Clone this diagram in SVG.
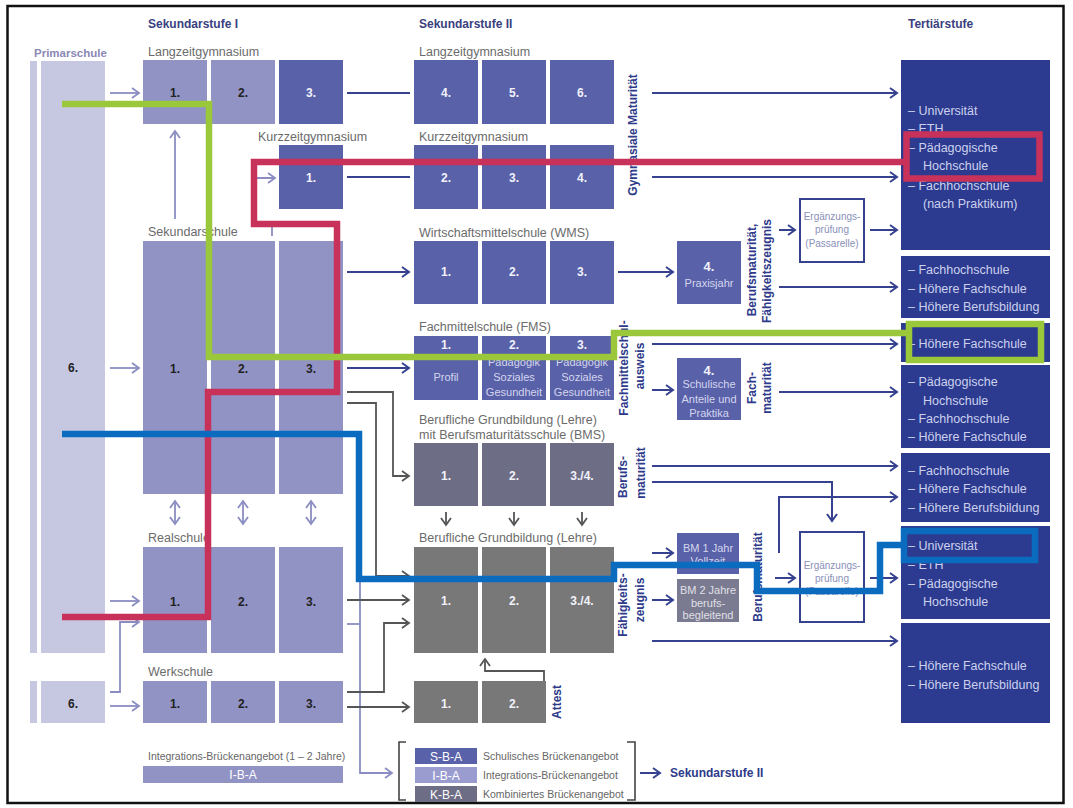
<svg xmlns="http://www.w3.org/2000/svg" width="1073" height="808" viewBox="0 0 1073 808">
<defs>
<style>
text{font-family:"Liberation Sans",Arial,sans-serif}
.hdr{font-size:12px;font-weight:bold;fill:#3a3f80}
.ph{font-size:11.5px;font-weight:bold;fill:#8b89b5}
.lbl{font-size:12.5px;fill:#6b6b6b}
.num{font-size:12px;font-weight:bold;text-anchor:middle}
.nd{fill:#222}
.nw{fill:#f2f2fa}
.sm{font-size:11px;fill:#d4d6ee;text-anchor:middle}
.smg{font-size:11px;fill:#e0e0e8;text-anchor:middle}
.ter{font-size:12.5px;fill:#cdd1ee}
.rot{font-size:12px;font-weight:bold;fill:#2e3a8a;text-anchor:middle}
.erg{font-size:10px;fill:#8a90b8;text-anchor:middle}
.leg{font-size:10.5px;fill:#666}
.legb{font-size:12px;fill:#fff;text-anchor:middle}
.pl{fill:#c6c8e2}
.lt{fill:#9193c5}
.dk{fill:#5961a9}
.bms{fill:#6d6e86}
.gr{fill:#787878}
.ter-box{fill:#2c3b8f}
.cb{fill:none;stroke:#36428f;stroke-width:2}
.cl{fill:none;stroke:#8b8dc2;stroke-width:1.8}
.cg{fill:none;stroke:#555;stroke-width:1.8}
.hl{fill:none;stroke-width:6.5;stroke-linejoin:miter}
</style>
<marker id="ab" viewBox="0 0 12 12" refX="10" refY="6" markerWidth="12" markerHeight="12" markerUnits="userSpaceOnUse" orient="auto-start-reverse"><path d="M3,1 L10,6 L3,11" fill="none" stroke="#36428f" stroke-width="2"/></marker>
<marker id="al" viewBox="0 0 12 12" refX="10" refY="6" markerWidth="12" markerHeight="12" markerUnits="userSpaceOnUse" orient="auto-start-reverse"><path d="M3,1 L10,6 L3,11" fill="none" stroke="#8b8dc2" stroke-width="1.8"/></marker>
<marker id="ag" viewBox="0 0 12 12" refX="10" refY="6" markerWidth="12" markerHeight="12" markerUnits="userSpaceOnUse" orient="auto-start-reverse"><path d="M3,1 L10,6 L3,11" fill="none" stroke="#555" stroke-width="1.8"/></marker>
</defs>
<rect x="0" y="0" width="1073" height="808" fill="#fff"/>
<rect x="7.5" y="6" width="1056" height="797" fill="none" stroke="#111" stroke-width="2.5"/>

<g id="headers">
<text class="hdr" x="148" y="28">Sekundarstufe I</text>
<text class="hdr" x="419" y="28">Sekundarstufe II</text>
<text class="hdr" x="908" y="28">Tertiärstufe</text>
<text class="ph" x="34" y="56.5">Primarschule</text>
</g>

<g id="primarschule">
<rect class="pl" x="30" y="61" width="7" height="592"/>
<rect class="pl" x="41" y="61" width="64" height="592"/>
<text class="num nd" x="73" y="372">6.</text>
<rect class="pl" x="30" y="681" width="7" height="42"/>
<rect class="pl" x="41" y="681" width="64" height="42"/>
<text class="num nd" x="73" y="708">6.</text>
</g>

<g id="sek1-langzeit">
<text class="lbl" x="148" y="56">Langzeitgymnasium</text>
<rect class="lt" x="143" y="60" width="64" height="64"/><text class="num nd" x="175" y="97">1.</text>
<rect class="lt" x="211" y="60" width="64" height="64"/><text class="num nd" x="243" y="97">2.</text>
<rect class="dk" x="279" y="60" width="64" height="64"/><text class="num nw" x="311" y="97">3.</text>
</g>
<g id="sek1-kurzzeit">
<text class="lbl" x="258" y="141">Kurzzeitgymnasium</text>
<rect class="dk" x="279" y="145" width="64" height="64"/><text class="num nw" x="311" y="182">1.</text>
</g>
<g id="sek1-sekundarschule">
<text class="lbl" x="148" y="236">Sekundarschule</text>
<rect class="lt" x="143" y="241" width="64" height="253"/><text class="num nd" x="175" y="373">1.</text>
<rect class="lt" x="211" y="241" width="64" height="253"/><text class="num nd" x="243" y="373">2.</text>
<rect class="lt" x="279" y="241" width="64" height="253"/><text class="num nd" x="311" y="373">3.</text>
</g>
<g id="sek1-realschule">
<text class="lbl" x="148" y="542">Realschule</text>
<rect class="lt" x="143" y="547" width="64" height="106"/><text class="num nd" x="175" y="606">1.</text>
<rect class="lt" x="211" y="547" width="64" height="106"/><text class="num nd" x="243" y="606">2.</text>
<rect class="lt" x="279" y="547" width="64" height="106"/><text class="num nd" x="311" y="606">3.</text>
</g>
<g id="sek1-werkschule">
<text class="lbl" x="148" y="676">Werkschule</text>
<rect class="lt" x="143" y="681" width="64" height="42"/><text class="num nd" x="175" y="708">1.</text>
<rect class="lt" x="211" y="681" width="64" height="42"/><text class="num nd" x="243" y="708">2.</text>
<rect class="lt" x="279" y="681" width="64" height="42"/><text class="num nd" x="311" y="708">3.</text>
</g>
<g id="iba">
<text class="leg" x="148" y="760">Integrations-Brückenangebot (1 – 2 Jahre)</text>
<rect class="lt" x="143" y="766" width="200" height="17"/><text class="legb" x="243" y="779">I-B-A</text>
</g>

<g id="sek2-langzeit">
<text class="lbl" x="419" y="56">Langzeitgymnasium</text>
<rect class="dk" x="414" y="60" width="64" height="64"/><text class="num nw" x="446" y="97">4.</text>
<rect class="dk" x="482" y="60" width="64" height="64"/><text class="num nw" x="514" y="97">5.</text>
<rect class="dk" x="550" y="60" width="64" height="64"/><text class="num nw" x="582" y="97">6.</text>
</g>
<g id="sek2-kurzzeit">
<text class="lbl" x="419" y="141">Kurzzeitgymnasium</text>
<rect class="dk" x="414" y="145" width="64" height="64"/><text class="num nw" x="446" y="182">2.</text>
<rect class="dk" x="482" y="145" width="64" height="64"/><text class="num nw" x="514" y="182">3.</text>
<rect class="dk" x="550" y="145" width="64" height="64"/><text class="num nw" x="582" y="182">4.</text>
</g>
<g id="gym-maturitaet">
<text class="rot" transform="translate(637,135) rotate(-90)">Gymnasiale Maturität</text>
</g>
<g id="wms">
<text class="lbl" x="419" y="237">Wirtschaftsmittelschule (WMS)</text>
<rect class="dk" x="414" y="241" width="64" height="63"/><text class="num nw" x="446" y="276">1.</text>
<rect class="dk" x="482" y="241" width="64" height="63"/><text class="num nw" x="514" y="276">2.</text>
<rect class="dk" x="550" y="241" width="64" height="63"/><text class="num nw" x="582" y="276">3.</text>
</g>
<g id="praxisjahr">
<rect class="dk" x="677" y="241" width="64" height="63"/>
<text class="num nw" x="709" y="271" style="font-size:13px">4.</text>
<text class="sm" x="709" y="287">Praxisjahr</text>
</g>
<g id="bm-fz">
<text class="rot" transform="translate(756,270) rotate(-90)">Berufsmaturität,</text>
<text class="rot" transform="translate(771,271) rotate(-90)">Fähigkeitszeugnis</text>
</g>
<g id="ergaenzung1">
<rect x="800" y="199" width="64" height="63" fill="#fff" stroke="#36428f" stroke-width="2"/>
<text class="erg" x="832" y="220">Ergänzungs-</text>
<text class="erg" x="832" y="233">prüfung</text>
<text class="erg" x="832" y="247">(Passarelle)</text>
</g>
<g id="fms">
<text class="lbl" x="419" y="331">Fachmittelschule (FMS)</text>
<rect class="dk" x="414" y="336" width="64" height="64"/><text class="num nw" x="446" y="349">1.</text>
<text class="sm" x="446" y="381">Profil</text>
<rect class="dk" x="482" y="336" width="64" height="64"/><text class="num nw" x="514" y="349">2.</text>
<text class="sm" x="514" y="366">Pädagogik</text><text class="sm" x="514" y="381">Soziales</text><text class="sm" x="514" y="396">Gesundheit</text>
<rect class="dk" x="550" y="336" width="64" height="64"/><text class="num nw" x="582" y="349">3.</text>
<text class="sm" x="582" y="366">Pädagogik</text><text class="sm" x="582" y="381">Soziales</text><text class="sm" x="582" y="396">Gesundheit</text>
</g>
<g id="fms-ausweis">
<text class="rot" transform="translate(628,368) rotate(-90)">Fachmittelschul-</text>
<text class="rot" transform="translate(644,366) rotate(-90)">ausweis</text>
</g>
<g id="fachmaturitaet-jahr">
<rect class="dk" x="677" y="358" width="64" height="62"/>
<text class="num nw" x="709" y="375" style="font-size:13px">4.</text>
<text class="sm" x="709" y="388">Schulische</text>
<text class="sm" x="709" y="403">Anteile und</text>
<text class="sm" x="709" y="417">Praktika</text>
</g>
<g id="fachmaturitaet">
<text class="rot" transform="translate(756,388) rotate(-90)">Fach-</text>
<text class="rot" transform="translate(771,388) rotate(-90)">maturität</text>
</g>
<g id="bms">
<text class="lbl" x="419" y="424">Berufliche Grundbildung (Lehre)</text>
<text class="lbl" x="419" y="439">mit Berufsmaturitätsschule (BMS)</text>
<rect class="bms" x="414" y="443" width="64" height="63"/><text class="num nw" x="446" y="480">1.</text>
<rect class="bms" x="482" y="443" width="64" height="63"/><text class="num nw" x="514" y="480">2.</text>
<rect class="bms" x="550" y="443" width="64" height="63"/><text class="num nw" x="582" y="480">3./4.</text>
</g>
<g id="bms-maturitaet">
<text class="rot" transform="translate(627,477) rotate(-90)">Berufs-</text>
<text class="rot" transform="translate(645,473) rotate(-90)">maturität</text>
</g>
<g id="lehre">
<text class="lbl" x="419" y="542">Berufliche Grundbildung (Lehre)</text>
<rect class="gr" x="414" y="547" width="64" height="106"/><text class="num nw" x="446" y="605">1.</text>
<rect class="gr" x="482" y="547" width="64" height="106"/><text class="num nw" x="514" y="605">2.</text>
<rect class="gr" x="550" y="547" width="64" height="106"/><text class="num nw" x="582" y="605">3./4.</text>
</g>
<g id="faehigkeitszeugnis">
<text class="rot" transform="translate(627,605) rotate(-90)">Fähigkeits-</text>
<text class="rot" transform="translate(644,600) rotate(-90)">zeugnis</text>
</g>
<g id="bm1">
<rect class="dk" x="677" y="533" width="62" height="41"/>
<text class="sm" x="708" y="552">BM 1 Jahr</text>
<text class="sm" x="708" y="565">Vollzeit</text>
</g>
<g id="bm2">
<rect x="677" y="579" width="62" height="43" fill="#7a7a90"/>
<text class="smg" x="708" y="594">BM 2 Jahre</text>
<text class="smg" x="708" y="607">berufs-</text>
<text class="smg" x="708" y="619">begleitend</text>
</g>
<g id="bm-lehre">
<text class="rot" transform="translate(762,577) rotate(-90)">Berufsmaturität</text>
</g>
<g id="ergaenzung2">
<rect x="800" y="532" width="64" height="90" fill="#fff" stroke="#36428f" stroke-width="2"/>
<text class="erg" x="832" y="569">Ergänzungs-</text>
<text class="erg" x="832" y="582">prüfung</text>
<text class="erg" x="832" y="595">(Passarelle)</text>
</g>
<g id="attest">
<rect class="gr" x="414" y="681" width="64" height="42"/><text class="num nw" x="446" y="708">1.</text>
<rect class="gr" x="482" y="681" width="64" height="42"/><text class="num nw" x="514" y="708">2.</text>
<text class="rot" transform="translate(561,702) rotate(-90)">Attest</text>
</g>

<g id="tertiaer">
<rect class="ter-box" x="901" y="60" width="149" height="190"/>
<text class="ter" x="908" y="114.5">– Universität</text>
<text class="ter" x="908" y="132.5">– ETH</text>
<text class="ter" x="908" y="151.5">– Pädagogische</text>
<text class="ter" x="923" y="170">Hochschule</text>
<text class="ter" x="908" y="189.5">– Fachhochschule</text>
<text class="ter" x="923" y="207.5">(nach Praktikum)</text>
<rect class="ter-box" x="901" y="256" width="149" height="62"/>
<text class="ter" x="908" y="273.5">– Fachhochschule</text>
<text class="ter" x="908" y="292.5">– Höhere Fachschule</text>
<text class="ter" x="908" y="310.5">– Höhere Berufsbildung</text>
<rect class="ter-box" x="901" y="323" width="149" height="39"/>
<text class="ter" x="908" y="347.5">– Höhere Fachschule</text>
<rect class="ter-box" x="901" y="365" width="149" height="83"/>
<text class="ter" x="908" y="385.5">– Pädagogische</text>
<text class="ter" x="923" y="404.5">Hochschule</text>
<text class="ter" x="908" y="422.5">– Fachhochschule</text>
<text class="ter" x="908" y="440.5">– Höhere Fachschule</text>
<rect class="ter-box" x="901" y="453" width="149" height="69"/>
<text class="ter" x="908" y="474.5">– Fachhochschule</text>
<text class="ter" x="908" y="492.5">– Höhere Fachschule</text>
<text class="ter" x="908" y="511.5">– Höhere Berufsbildung</text>
<rect class="ter-box" x="901" y="526" width="149" height="93"/>
<text class="ter" x="908" y="549.5">– Universität</text>
<text class="ter" x="908" y="568.5">– ETH</text>
<text class="ter" x="908" y="587.5">– Pädagogische</text>
<text class="ter" x="923" y="605.5">Hochschule</text>
<rect class="ter-box" x="901" y="623" width="149" height="100"/>
<text class="ter" x="908" y="669.5">– Höhere Fachschule</text>
<text class="ter" x="908" y="688.5">– Höhere Berufsbildung</text>
</g>

<g id="legend">
<path d="M406,742 H399 V800 H406" fill="none" stroke="#444" stroke-width="1.6"/>
<path d="M627,742 H635 V800 H627" fill="none" stroke="#444" stroke-width="1.6"/>
<rect class="dk" x="415" y="748" width="62" height="16"/><text class="legb" x="446" y="760.5">S-B-A</text>
<rect x="415" y="767" width="62" height="16" fill="#9a9cd0"/><text class="legb" x="446" y="779.5">I-B-A</text>
<rect class="bms" x="415" y="786" width="62" height="16"/><text class="legb" x="446" y="798.5">K-B-A</text>
<text class="leg" x="483" y="760">Schulisches Brückenangebot</text>
<text class="leg" x="483" y="779">Integrations-Brückenangebot</text>
<text class="leg" x="483" y="798">Kombiniertes Brückenangebot</text>
<text class="hdr" x="670" y="777" style="fill:#2e3a8a">Sekundarstufe II</text>
</g>

<g id="connectors">
<!-- lavender -->
<path class="cl" d="M110,93 H139" marker-end="url(#al)"/>
<path class="cl" d="M175,219 V131" marker-end="url(#al)"/>
<path class="cl" d="M272,236 V224 H255 V178 H275" marker-end="url(#al)"/>
<path class="cl" d="M110,368 H139" marker-end="url(#al)"/>
<path class="cl" d="M175,501 V524" marker-start="url(#al)" marker-end="url(#al)"/>
<path class="cl" d="M243,501 V524" marker-start="url(#al)" marker-end="url(#al)"/>
<path class="cl" d="M311,501 V524" marker-start="url(#al)" marker-end="url(#al)"/>
<path class="cl" d="M110,601 H139" marker-end="url(#al)"/>
<path class="cl" d="M110,692 H120 V622 H139" marker-end="url(#al)"/>
<path class="cl" d="M110,706 H139" marker-end="url(#al)"/>
<path class="cl" d="M347,624 H360"/>
<path class="cl" d="M360,580 V773 H392" marker-end="url(#al)"/>
<!-- dark blue -->
<path class="cb" d="M347,93 H410"/>
<path class="cb" d="M652,93 H897" marker-end="url(#ab)"/>
<path class="cb" d="M347,177 H410"/>
<path class="cb" d="M652,177 H897" marker-end="url(#ab)"/>
<path class="cb" d="M347,272 H409" marker-end="url(#ab)"/>
<path class="cb" d="M618,272 H673" marker-end="url(#ab)"/>
<path class="cb" d="M779,230 H795" marker-end="url(#ab)"/>
<path class="cb" d="M870,230 H897" marker-end="url(#ab)"/>
<path class="cb" d="M779,287 H897" marker-end="url(#ab)"/>
<path class="cb" d="M347,368 H409" marker-end="url(#ab)"/>
<path class="cb" d="M652,344 H897" marker-end="url(#ab)"/>
<path class="cb" d="M652,390 H673" marker-end="url(#ab)"/>
<path class="cb" d="M779,392 H897" marker-end="url(#ab)"/>
<path class="cb" d="M652,466 H897" marker-end="url(#ab)"/>
<path class="cb" d="M652,482 H832 V521" marker-end="url(#ab)"/>
<path class="cb" d="M779,553 V497 H897" marker-end="url(#ab)"/>
<path class="cb" d="M652,553 H673" marker-end="url(#ab)"/>
<path class="cb" d="M652,600 H673" marker-end="url(#ab)"/>
<path class="cb" d="M775,578 H795" marker-end="url(#ab)"/>
<path class="cb" d="M870,578 H897" marker-end="url(#ab)"/>
<path class="cb" d="M652,641 H897" marker-end="url(#ab)"/>
<path class="cb" d="M640,773 H660" marker-end="url(#ab)"/>
<!-- gray -->
<path class="cg" d="M347,392 H393 V476 H409" marker-end="url(#ag)"/>
<path class="cg" d="M347,403 H376 V576 H409" marker-end="url(#ag)"/>
<path class="cg" d="M347,600 H409" marker-end="url(#ag)"/>
<path class="cg" d="M347,692 H384 V623 H409" marker-end="url(#ag)"/>
<path class="cg" d="M347,707 H409" marker-end="url(#ag)"/>
<path class="cg" d="M544,681 V671 H485 V659" marker-end="url(#ag)"/>
<path class="cg" d="M446,512 V525" marker-end="url(#ag)"/>
<path class="cg" d="M514,512 V525" marker-end="url(#ag)"/>
<path class="cg" d="M582,512 V525" marker-end="url(#ag)"/>
</g>

<g id="highlight-paths">
<polyline class="hl" stroke="#c8325a" points="62,617 208,617 208,392 337,392 337,224 254,224 254,162 906,162"/>
<rect class="hl" stroke="#c8325a" x="906.5" y="134.5" width="133" height="44"/>
<polyline class="hl" stroke="#9bc83a" points="62,104 209,104 209,357 614,357 614,333 906,333"/>
<rect class="hl" stroke="#9bc83a" x="909" y="324" width="132" height="36"/>
<polyline class="hl" stroke="#0b6cbf" points="62,434 359,434 359,579 614,579 614,565 757,565 757,591 880,591 880,545 902,545"/>
<rect class="hl" stroke="#0b6cbf" x="904" y="531" width="131" height="29"/>
</g>
</svg>
